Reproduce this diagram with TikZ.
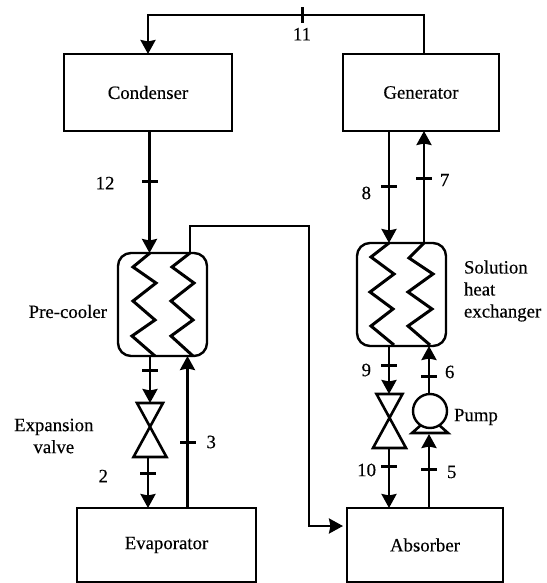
\documentclass[tikz,border=0pt]{standalone}
\usepackage{fontspec}
\setmainfont{Liberation Serif}[FakeBold=0.35]
\usetikzlibrary{positioning,arrows.meta}
\tikzset{>={Stealth[length=14pt,width=15pt,inset=1.5pt]}}
\tikzset{box/.style={draw=black,line width=2.4pt,inner sep=0pt,outer sep=0pt,minimum width=168pt,minimum height=77pt}}
\tikzset{exch/.style={draw=black,line width=2.4pt,rounded corners=13pt,inner sep=0pt,outer sep=0pt,minimum width=89pt,minimum height=103pt}}
\tikzset{pipe/.style={draw=black,line width=2.6pt,line join=miter}}
\tikzset{coil/.style={draw=black,line width=3pt,line join=miter}}
\tikzset{tick/.style={fill=black,inner sep=0pt,outer sep=0pt,minimum width=16pt,minimum height=3pt}}
\tikzset{vtick/.style={fill=black,inner sep=0pt,outer sep=0pt,minimum width=3pt,minimum height=16pt}}
\tikzset{lab/.style={inner sep=0pt,outer sep=0pt,align=left}}
\tikzset{valve/.style={inner sep=0pt,outer sep=0pt,minimum width=33pt,minimum height=54pt}}
\def\myvalve#1{\draw[pipe] ([xshift=-13pt]#1.north) -- ([xshift=13pt]#1.north) -- (#1.south west) -- (#1.south east) -- cycle;}
\begin{document}
\begin{tikzpicture}[x=1pt,y=-1pt,font=\fontsize{18.8}{22}\selectfont,node distance=10pt]
  \useasboundingbox (0,0) rectangle (546,583);
  \node[box] (condenser) at (148,92.5) {Condenser};
  \node[box, right=111pt of condenser, minimum width=156pt] (generator) {Generator};
  \node[box, below=377pt of condenser, xshift=18.5pt, minimum width=179pt, minimum height=74pt] (evaporator) {Evaporator};
  \node[box, right=91pt of evaporator, minimum width=156pt, minimum height=74pt] (absorber) {Absorber};
  \node[exch, below=122pt of condenser, xshift=14.5pt] (precooler) {};
  \node[exch, right=150pt of precooler, yshift=10pt] (shx) {};

  \node[valve] (valve1) at (150,430) {};
  \node[valve] (valve2) at (389.5,421) {};
  \node[circle, draw=black, line width=2.4pt, inner sep=0pt, outer sep=0pt, minimum size=34pt] (pump) at (430,411) {};
  \myvalve{valve1}
  \myvalve{valve2}
  \draw[pipe] (421,425) -- (412,433) -- (448,433) -- (439,425);

  % pipe ends on the boxes
  \coordinate (pcleftin) at (149.5,253);
  \coordinate (pcleftcoil) at (150,253);
  \coordinate (pcrighttop) at (190,253);
  \coordinate (pcrightin) at (187.5,356);
  \coordinate (pcbend) at (309,226);
  \coordinate (evapin) at (148,508);
  \coordinate (evapout) at (187.5,508);
  \coordinate (genout) at (389,131);
  \coordinate (genin) at (424,131);
  \coordinate (gentop) at (424,54);
  \coordinate (shxleftin) at (389,243);
  \coordinate (shxrighttop) at (424,243);
  \coordinate (shxleftout) at (389,346);
  \coordinate (shxrightin) at (429,346);
  \coordinate (absin) at (389,508);
  \coordinate (absout) at (429,508);
  \coordinate (pumpbase) at (429,434);
  \coordinate (absside) at (343,526);

  % coils
  \draw[coil] (pcleftcoil) -- (133,267) -- (156,283) -- (133,301) -- (155,320) -- (132,336) -- (155,356);
  \draw[coil] (pcrighttop) -- (172,267) -- (194,283) -- (171,301) -- (193,320) -- (171,336) -- (193,356);
  \draw[coil] (shxleftin) -- (371,257) -- (394,274) -- (370,292) -- (393,309) -- (371,326) -- (394,345);
  \draw[coil] (shxrighttop) -- (409,258) -- (433,274) -- (408,292) -- (432,309) -- (408,326) -- (430,345);

  % ticks
  \node[vtick] (tick11) at (302,15) {};
  \node[tick] (tick12) at (149.5,181) {};
  \node[tick] (tick1) at (150,370) {};
  \node[tick] (tick2) at (148,473) {};
  \node[tick] (tick3) at (187.5,442) {};
  \node[tick] (tick5) at (429,469) {};
  \node[tick] (tick6) at (429,376) {};
  \node[tick] (tick7) at (424,178) {};
  \node[tick] (tick8) at (389,186) {};
  \node[tick] (tick9) at (389,365) {};
  \node[tick] (tick10) at (389,466) {};

  % pipes
  \draw[pipe,->] (gentop) |- (tick11.center) -| (condenser.north);
  \draw[pipe,->] (condenser.south -| pcleftin) -- (pcleftin);
  \draw[pipe,->] (precooler.south -| tick1) -- (valve1.north);
  \draw[pipe,->] (valve1.south -| tick2) -- (evapin);
  \draw[pipe,->] (evapout) -- (pcrightin);
  \draw[pipe,->] (pcrighttop) |- (pcbend) |- (absside);
  \draw[pipe,->] (genout) -- (shxleftin);
  \draw[pipe,->] (shxrighttop) -- (genin);
  \draw[pipe,->] (shxleftout) -- (valve2.north -| shxleftout);
  \draw[pipe,->] (valve2.south -| absin) -- (absin);
  \draw[pipe,->] (absout) -- (pumpbase);
  \draw[pipe,->] (pump.north -| shxrightin) -- (shxrightin);

  % labels
  \node[lab, below=5pt of tick11] (lab11) {11};
  \node[lab, left=27pt of tick12, yshift=-2pt] (lab12) {12};
  \node[lab, left=32pt of tick2, yshift=-3pt] (lab2) {2};
  \node[lab, right=11pt of tick3] (lab3) {3};
  \node[lab, right=10pt of tick5, yshift=-3pt] (lab5) {5};
  \node[lab, right=8pt of tick6, yshift=4pt] (lab6) {6};
  \node[lab, right=8pt of tick7, yshift=-2pt] (lab7) {7};
  \node[lab, left=10pt of tick8, yshift=-7pt] (lab8) {8};
  \node[lab, left=10pt of tick9, yshift=-5pt] (lab9) {9};
  \node[lab, left=5pt of tick10, yshift=-4pt] (lab10) {10};
  \node[lab, left=11pt of precooler, yshift=-7pt] (labpc) {Pre-cooler};
  \node[lab, left=40pt of valve1, yshift=-6pt, align=center] (labvalve) {Expansion\\valve};
  \node[lab, right=7pt of pump, yshift=-6pt] (labpump) {Pump};
  \node[lab, right=18pt of shx, yshift=3.5pt] (labshx) {Solution\\heat\\exchanger};
\end{tikzpicture}
\end{document}
